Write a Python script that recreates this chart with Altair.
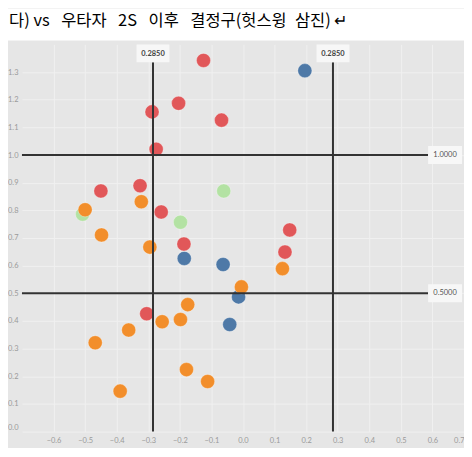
import altair as alt
import pandas as pd

# ---- data ----
red_x = [-0.125, -0.288, -0.204, -0.068, -0.275, -0.450, -0.326, -0.259, -0.187, 0.148, 0.133, -0.305]
red_y = [1.342, 1.156, 1.187, 1.126, 1.021, 0.870, 0.889, 0.794, 0.678, 0.729, 0.649, 0.426]
green_x = [-0.061, -0.198, -0.508]
green_y = [0.870, 0.757, 0.786]
blue_x = [0.196, -0.186, -0.063, -0.014, -0.042]
blue_y = [1.305, 0.626, 0.604, 0.487, 0.387]
orange_x = [-0.500, -0.322, -0.448, -0.295, 0.125, -0.005, -0.175, -0.256, -0.198, -0.362, -0.468, -0.179, -0.112, -0.389]
orange_y = [0.802, 0.831, 0.711, 0.667, 0.589, 0.523, 0.459, 0.397, 0.405, 0.367, 0.321, 0.224, 0.181, 0.146]

groups = ["green", "blue", "red", "orange"]
group_colors = ["#b3e2a3", "#4e79a7", "#e15759", "#f28e2b"]

vline_x = [-0.285, 0.285]
vline_labels = ["0.2850", "0.2850"]
hline_y = [1.0, 0.5]
hline_labels = ["1.0000", "0.5000"]

x_ticks = [-0.6, -0.5, -0.4, -0.3, -0.2, -0.1, 0.0, 0.1, 0.2, 0.3, 0.4, 0.5, 0.6, 0.7]
y_ticks = [0.0, 0.1, 0.2, 0.3, 0.4, 0.5, 0.6, 0.7, 0.8, 0.9, 1.0, 1.1, 1.2, 1.3]
x_domain = [-0.7, 0.7]
y_domain = [0.0, 1.4]

title_text = "다) vs\u2002\u2009우타자\u2002\u20092S\u2002\u2009이후\u2002\u2009결정구(헛스윙\u2002삼진)\u2009↵"

W, H = 443, 388

rows = []
for g, xs_, ys_ in [("green", green_x, green_y), ("blue", blue_x, blue_y),
                    ("red", red_x, red_y), ("orange", orange_x, orange_y)]:
    for a, b in zip(xs_, ys_):
        rows.append({"x": a, "y": b, "grp": g})
pts = pd.DataFrame(rows)
vdf = pd.DataFrame({"x": vline_x, "lab": vline_labels})
hdf = pd.DataFrame({"y": hline_y, "lab": hline_labels})

xs = alt.Scale(domain=x_domain, nice=False, zero=False)
ys = alt.Scale(domain=y_domain, nice=False, zero=False)

axis_common = dict(format=".1f", labelFlush=True, labelOverlap=False, grid=True, ticks=False, tickSize=0,
                   domain=False, labelFontSize=7.5, labelColor="#9a9a9a",
                   labelFont="Lato", gridColor="#f0f0f0", gridWidth=1)
ax_x = alt.Axis(values=x_ticks, labelPadding=5, **axis_common)
ax_y = alt.Axis(values=y_ticks, labelPadding=4, **axis_common)


def X(f):
    return alt.X(f, type="quantitative", scale=xs, title=None, axis=ax_x)


def Y(f):
    return alt.Y(f, type="quantitative", scale=ys, title=None, axis=ax_y)


points = alt.Chart(pts).mark_circle(size=200, opacity=1, stroke="white", strokeWidth=0.6, strokeOpacity=0.5).encode(
    x=X("x"), y=Y("y"),
    color=alt.Color("grp:N", scale=alt.Scale(domain=groups, range=group_colors), legend=None),
)

vrule = alt.Chart(vdf).mark_rule(color="#333333", strokeWidth=2).encode(
    x=X("x"), y=alt.value(18), y2=alt.value(H)
)
hrule = alt.Chart(hdf).mark_rule(color="#333333", strokeWidth=2).encode(
    y=Y("y"), x=alt.value(0), x2=alt.value(W - 36)
)
vbox = alt.Chart(vdf).mark_rect(color="#f7f7f7", xOffset=-16.5, x2Offset=16.5).encode(
    x=X("x"), x2="x", y=alt.value(0), y2=alt.value(18)
)
vtext = alt.Chart(vdf).mark_text(fontSize=7.5, fontWeight="bold", color="#444444", font="Lato").encode(
    x=X("x"), y=alt.value(9.5), text="lab:N"
)
hbox = alt.Chart(hdf).mark_rect(color="#f7f7f7", yOffset=-9, y2Offset=9).encode(
    y=Y("y"), y2="y", x=alt.value(W - 36), x2=alt.value(W - 2)
)
htext = alt.Chart(hdf).mark_text(fontSize=7.5, color="#555555", font="Lato").encode(
    y=Y("y"), x=alt.value(W - 19), text="lab:N"
)

band = alt.Chart(pd.DataFrame({"t": [title_text]})).mark_rect(color="white").encode(
    x=alt.value(-14), x2=alt.value(W), y=alt.value(-36), y2=alt.value(-4)
)
title = alt.Chart(pd.DataFrame({"t": [title_text]})).mark_text(
    align="left", baseline="middle", fontSize=16.5, font="Noto Sans CJK KR", color="black"
).encode(x=alt.value(-13), y=alt.value(-23), text="t:N")

chart = alt.layer(band, title, points, hrule, vrule, vbox, vtext, hbox, htext).properties(
    width=W, height=H,
    autosize=alt.AutoSizeParams(type="none"),
    padding={"left": 14, "top": 36, "right": 0, "bottom": 16},
).configure(background="#e6e6e6").configure_view(stroke=None)

chart.save("out.html", embed_options={"renderer": "svg", "actions": False})
